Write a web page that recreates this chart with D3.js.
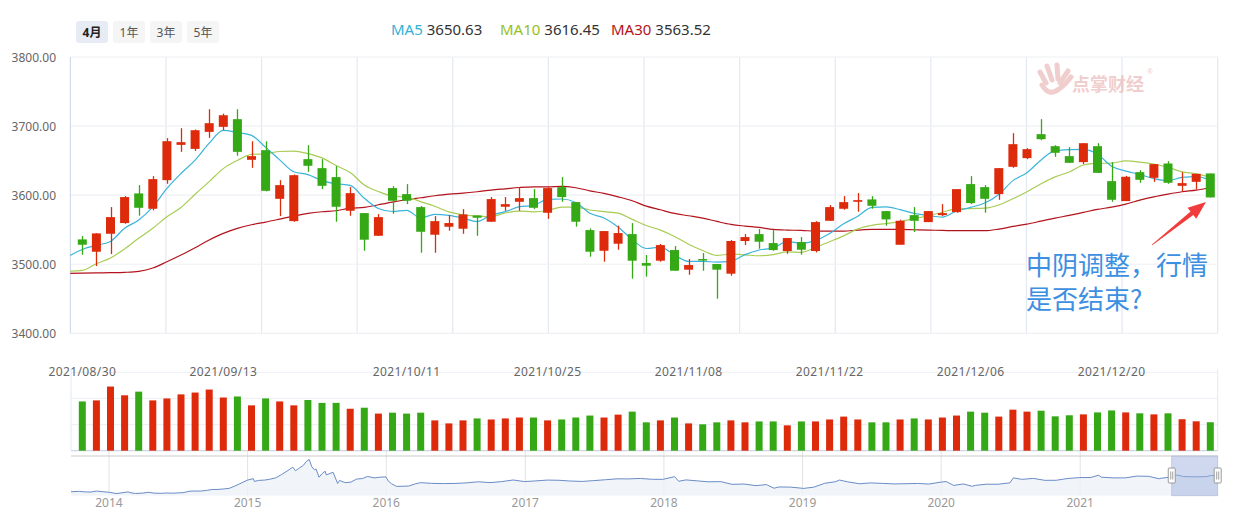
<!DOCTYPE html>
<html lang="zh-CN">
<head>
<meta charset="UTF-8">
<title>上证指数 日K</title>
<script src="https://d3js.org/d3.v7.min.js"></script>
<style>
  body {margin: 0; background: #fff; font-family: "Noto Sans", "Noto Sans CJK SC", sans-serif;}
  svg {display: block;}
</style>
</head>
<body>
<div id="chart"></div>
<script>
// trading days shown in the window
const dates = [
  "2021/08/30","2021/08/31","2021/09/01","2021/09/02","2021/09/03","2021/09/06","2021/09/07","2021/09/08","2021/09/09","2021/09/10",
  "2021/09/13","2021/09/14","2021/09/15","2021/09/16","2021/09/17","2021/09/22","2021/09/23","2021/09/24","2021/09/27","2021/09/28",
  "2021/09/29","2021/09/30","2021/10/08","2021/10/11","2021/10/12","2021/10/13","2021/10/14","2021/10/15","2021/10/18","2021/10/19",
  "2021/10/20","2021/10/21","2021/10/22","2021/10/25","2021/10/26","2021/10/27","2021/10/28","2021/10/29","2021/11/01","2021/11/02",
  "2021/11/03","2021/11/04","2021/11/05","2021/11/08","2021/11/09","2021/11/10","2021/11/11","2021/11/12","2021/11/15","2021/11/16",
  "2021/11/17","2021/11/18","2021/11/19","2021/11/22","2021/11/23","2021/11/24","2021/11/25","2021/11/26","2021/11/29","2021/11/30",
  "2021/12/01","2021/12/02","2021/12/03","2021/12/06","2021/12/07","2021/12/08","2021/12/09","2021/12/10","2021/12/13","2021/12/14",
  "2021/12/15","2021/12/16","2021/12/17","2021/12/20","2021/12/21","2021/12/22","2021/12/23","2021/12/24","2021/12/27","2021/12/28",
  "2021/12/29"
];
const opens = [
  3535.9,3518.1,3544.1,3559.6,3602.5,3580.3,3621.7,3672.8,3667.0,3691.6,
  3698.9,3710.0,3651.2,3665.1,3594.7,3562.4,3652.1,3639.1,3626.1,3577.4,
  3574.0,3541.2,3610.2,3601.5,3582.7,3542.7,3554.3,3551.4,3570.6,3561.5,
  3583.2,3590.4,3595.7,3574.5,3611.6,3589.9,3549.4,3519.5,3529.7,3543.6,
  3501.7,3505.1,3520.5,3492.1,3507.5,3500.3,3486.3,3533.6,3543.6,3530.6,
  3519.1,3532.1,3519.1,3562.9,3580.3,3590.4,3593.8,3576.9,3528.2,3571.1,
  3561.0,3571.1,3575.4,3616.0,3611.6,3601.5,3641.0,3653.6,3688.3,3670.9,
  3656.5,3647.8,3670.9,3620.3,3591.4,3633.3,3625.1,3645.8,3613.5,3619.3,
  3631.4
];
const closes = [
  3528.2,3544.6,3568.2,3597.2,3581.7,3623.2,3678.1,3676.7,3694.0,3704.2,
  3715.7,3662.7,3656.5,3606.3,3614.5,3628.9,3642.5,3613.5,3583.2,3602.9,
  3535.5,3568.2,3591.9,3591.9,3547.0,3562.4,3559.6,3572.1,3567.3,3594.3,
  3587.0,3595.7,3581.7,3610.2,3597.2,3561.5,3518.1,3548.0,3545.1,3505.1,
  3497.9,3527.7,3490.6,3498.8,3505.6,3492.1,3533.6,3539.3,3532.6,3520.5,
  3537.9,3521.0,3561.0,3582.7,3589.9,3592.8,3584.6,3564.9,3562.9,3562.9,
  3576.9,3574.0,3608.7,3588.5,3594.7,3639.1,3673.8,3666.6,3681.0,3661.3,
  3646.8,3675.2,3632.3,3593.3,3626.6,3622.2,3644.9,3617.9,3617.4,3630.9,
  3596.7
];
const highs = [
  3540.8,3545.0,3582.7,3598.6,3614.5,3627.5,3682.5,3696.9,3695.0,3724.4,
  3718.0,3724.4,3678.0,3678.0,3621.7,3629.9,3672.3,3652.1,3642.0,3611.6,
  3574.0,3572.6,3613.0,3616.0,3584.1,3569.7,3571.1,3579.8,3570.6,3597.2,
  3597.2,3611.6,3608.7,3611.6,3626.1,3589.9,3551.8,3548.0,3555.7,3559.6,
  3513.3,3529.2,3526.3,3507.5,3516.2,3500.3,3535.0,3543.6,3550.9,3549.4,
  3537.9,3539.3,3562.4,3585.6,3598.6,3603.0,3598.6,3576.9,3564.4,3582.7,
  3576.9,3587.0,3608.7,3627.5,3614.5,3639.1,3689.7,3668.0,3710.0,3672.3,
  3669.5,3675.2,3675.2,3647.8,3628.0,3636.2,3644.9,3649.2,3633.3,3630.9,
  3631.4
];
const lows = [
  3513.8,3497.4,3514.7,3558.6,3570.2,3578.0,3616.4,3662.7,3664.0,3683.0,
  3694.0,3657.0,3639.6,3605.5,3569.7,3561.5,3633.8,3608.7,3561.5,3570.2,
  3519.5,3541.0,3573.0,3587.0,3516.7,3516.7,3548.5,3544.1,3541.2,3561.5,
  3577.4,3577.4,3579.8,3565.8,3590.4,3554.3,3510.9,3503.6,3521.0,3479.1,
  3482.0,3503.6,3490.6,3484.8,3490.6,3450.1,3483.4,3527.7,3522.4,3519.5,
  3515.2,3513.8,3517.1,3562.9,3578.8,3576.0,3580.3,3555.7,3528.2,3546.5,
  3561.0,3569.7,3574.5,3587.0,3574.5,3593.3,3639.6,3652.1,3679.6,3655.5,
  3646.8,3644.9,3632.3,3590.4,3591.4,3617.9,3619.3,3616.4,3604.9,3608.2,
  3596.7
];
const volumes = [
  377,385,491,424,452,385,400,431,445,468,
  407,415,347,400,377,347,388,366,366,321,
  329,284,291,284,291,232,209,232,247,239,
  247,254,254,232,239,254,269,254,276,299,
  217,232,254,209,202,217,232,217,224,224,
  194,224,224,239,261,239,217,217,239,247,
  239,254,269,299,291,261,314,299,306,263,
  271,278,293,308,293,286,278,286,241,225,
  218
];
// moving averages, first value is the trading day before the window
const ma5 = [
  3511.2,
  3521.4,3527.4,3533.0,3552.1,3564.0,3583.0,3609.7,3631.4,3650.7,3675.2,
  3693.7,3690.7,3686.6,3669.1,3651.1,3633.8,3629.7,3621.1,3616.5,3614.2,
  3595.5,3580.7,3576.3,3578.1,3566.9,3572.3,3570.6,3566.6,3561.7,3571.1,
  3576.1,3583.3,3585.2,3593.8,3594.4,3589.3,3573.7,3567.0,3554.0,3535.6,
  3522.8,3524.8,3513.3,3504.0,3504.1,3503.0,3504.1,3513.9,3520.6,3523.6,
  3532.8,3530.3,3534.6,3544.6,3558.5,3569.5,3582.2,3583.0,3579.0,3573.6,
  3570.4,3568.3,3577.1,3582.2,3588.6,3601.0,3621.0,3632.5,3651.0,3664.4,
  3665.9,3666.2,3659.3,3641.8,3634.8,3629.9,3623.9,3621.0,3625.8,3626.7,
  3621.6
];
const ma10 = [
  3489.9,
  3491.0,3500.7,3509.0,3522.2,3537.6,3552.2,3568.6,3582.2,3601.4,3619.6,
  3638.4,3650.2,3659.0,3659.9,3663.2,3663.8,3660.2,3653.9,3642.8,3632.7,
  3614.7,3605.2,3598.7,3597.3,3590.6,3583.9,3575.7,3571.5,3569.9,3569.0,
  3574.2,3577.0,3575.9,3577.8,3582.8,3582.7,3578.5,3576.1,3573.9,3565.0,
  3556.1,3549.3,3540.2,3529.0,3519.9,3512.9,3514.5,3513.6,3512.3,3513.9,
  3517.9,3517.2,3524.3,3532.6,3541.1,3551.2,3556.3,3558.8,3561.8,3566.1,
  3570.0,3575.3,3580.1,3580.6,3581.1,3585.7,3594.7,3604.8,3616.6,3626.5,
  3633.5,3643.6,3645.9,3646.4,3649.6,3647.9,3645.1,3640.2,3633.8,3630.8,
  3625.8
];
const ma30 = [
  3486.8,
  3487.2,3487.5,3487.7,3488.2,3489.7,3494.5,3503.6,3513.3,3523.9,3535.0,
  3544.6,3551.8,3557.1,3561.0,3565.3,3569.7,3573.5,3576.0,3577.4,3581.2,
  3582.2,3586.1,3589.9,3593.3,3596.2,3599.1,3601.5,3602.9,3604.9,3607.3,
  3609.2,3611.1,3612.1,3612.1,3612.6,3610.7,3606.3,3602.5,3597.6,3591.9,
  3584.1,3578.8,3573.5,3570.2,3566.8,3562.0,3557.6,3555.2,3553.3,3550.4,
  3549.4,3549.0,3547.8,3547.8,3548.0,3549.4,3550.4,3550.4,3550.4,3549.9,
  3549.4,3549.0,3548.5,3548.5,3548.5,3550.9,3554.7,3558.1,3562.4,3566.8,
  3570.6,3575.0,3579.3,3582.7,3587.0,3592.8,3597.6,3601.5,3604.9,3607.3,
  3610.7
];
const dateTicks = ["2021/08/30","2021/09/13","2021/10/11","2021/10/25","2021/11/08","2021/11/22","2021/12/06","2021/12/20"];
const priceTicks = [3400, 3500, 3600, 3700, 3800];
const periods = ["4月", "1年", "3年", "5年"];
const legend = [
  {name: "MA5", value: "3650.63", color: "#31b2d8"},
  {name: "MA10", value: "3616.45", color: "#96c11e"},
  {name: "MA30", value: "3563.52", color: "#b3131c"}
];
// overview series for the zoom bar (index, roughly monthly)
const overview = [
  ["2013-09-23",2160],["2013-10-15",2193],["2013-10-31",2141],["2013-11-15",2135],["2013-11-29",2220],
  ["2013-12-16",2160],["2013-12-31",2116],["2014-01-20",1991],["2014-01-30",2033],["2014-02-20",2143],
  ["2014-02-28",2056],["2014-03-12",1997],["2014-03-31",2033],["2014-04-15",2105],["2014-04-30",2026],
  ["2014-05-20",2010],["2014-05-30",2039],["2014-06-20",2026],["2014-06-30",2048],["2014-07-15",2068],
  ["2014-07-31",2201],["2014-08-15",2226],["2014-08-29",2217],["2014-09-15",2285],["2014-09-30",2364],
  ["2014-10-15",2374],["2014-10-31",2420],["2014-11-14",2478],["2014-11-28",2683],["2014-12-09",2856],
  ["2014-12-31",3234],["2015-01-16",3376],["2015-01-19",3116],["2015-01-30",3210],["2015-02-16",3247],
  ["2015-02-27",3310],["2015-03-16",3449],["2015-03-31",3748],["2015-04-15",4084],["2015-04-30",4441],
  ["2015-05-07",4112],["2015-05-15",4308],["2015-05-28",4621],["2015-06-04",4947],["2015-06-12",5166],
  ["2015-06-19",4478],["2015-06-26",4192],["2015-06-30",4277],["2015-07-08",3507],["2015-07-15",3805],
  ["2015-07-24",4070],["2015-07-27",3725],["2015-08-14",3965],["2015-08-26",2927],["2015-08-31",3205],
  ["2015-09-15",3005],["2015-09-30",3052],["2015-10-15",3338],["2015-10-30",3382],["2015-11-13",3580],
  ["2015-11-30",3445],["2015-12-15",3510],["2015-12-31",3539],["2016-01-07",3125],["2016-01-15",2900],
  ["2016-01-28",2655],["2016-02-29",2688],["2016-03-15",2864],["2016-03-31",3004],["2016-04-29",2938],
  ["2016-05-31",2917],["2016-06-30",2930],["2016-07-29",2979],["2016-08-31",3085],["2016-09-30",3005],
  ["2016-10-31",3100],["2016-11-30",3250],["2016-12-30",3104],["2017-01-26",3159],["2017-02-28",3242],
  ["2017-03-31",3223],["2017-04-28",3155],["2017-05-31",3117],["2017-06-30",3192],["2017-07-31",3273],
  ["2017-08-31",3361],["2017-09-29",3349],["2017-10-31",3393],["2017-11-30",3317],["2017-12-29",3307],
  ["2018-01-29",3560],["2018-02-09",3129],["2018-02-28",3259],["2018-03-30",3169],["2018-04-27",3082],
  ["2018-05-31",3095],["2018-06-29",2847],["2018-07-31",2876],["2018-08-31",2725],["2018-09-28",2821],
  ["2018-10-18",2486],["2018-10-31",2603],["2018-11-30",2588],["2018-12-28",2494],["2019-01-03",2464],
  ["2019-01-31",2585],["2019-02-28",2941],["2019-03-29",3091],["2019-04-08",3247],["2019-04-30",3078],
  ["2019-05-31",2899],["2019-06-28",2979],["2019-07-31",2933],["2019-08-30",2886],["2019-09-30",2905],
  ["2019-10-31",2929],["2019-11-29",2872],["2019-12-31",3050],["2020-01-14",3106],["2020-02-03",2746],
  ["2020-02-28",2880],["2020-03-23",2660],["2020-03-31",2750],["2020-04-30",2860],["2020-05-29",2852],
  ["2020-06-30",2985],["2020-07-09",3450],["2020-07-31",3310],["2020-08-31",3396],["2020-09-30",3218],
  ["2020-10-30",3225],["2020-11-30",3392],["2020-12-31",3473],["2021-01-29",3483],["2021-02-18",3696],
  ["2021-02-26",3509],["2021-03-31",3442],["2021-04-30",3447],["2021-05-31",3615],["2021-06-30",3591],
  ["2021-07-28",3362],["2021-07-30",3397],["2021-08-31",3544],["2021-09-13",3715],["2021-09-30",3568],
  ["2021-10-29",3547],["2021-11-30",3564],["2021-12-13",3681],["2021-12-29",3597]
];
const windowStart = "2021-08-30";
const note = ["中阴调整，行情", "是否结束?"];

const W = 1243, H = 521;
const UP = "#dd2a0b", DOWN = "#35a816";
const plot = {left: 70.3, right: 1217.7, top: 57, bottom: 333.3};
const vol = {top: 372.3, bottom: 450.7};
const nav = {top: 456, bottom: 495.7};

const svg = d3.select("#chart").append("svg")
  .attr("width", W).attr("height", H)
  .attr("viewBox", `0 0 ${W} ${H}`);

const n = dates.length;
const xi = d3.scaleLinear().domain([0, n - 1]).range([82.3, 1210.3]);
const y = d3.scaleLinear().domain([3400, 3800]).range([plot.bottom, plot.top]);
const yv = d3.scaleLinear().domain([0, 600]).range([vol.bottom, vol.top]);

// ---- header: period buttons + MA legend
const btn = svg.append("g").selectAll("g").data(periods).join("g")
  .attr("transform", (d, i) => `translate(${76 + i * 37},21)`);
btn.append("rect").attr("width", 32).attr("height", 22).attr("rx", 3)
  .attr("fill", (d, i) => i === 0 ? "#e7ebf4" : "#f5f5f5");
btn.append("text").attr("x", 16).attr("y", 15.5).attr("text-anchor", "middle")
  .attr("font-size", 12).attr("font-weight", (d, i) => i === 0 ? "bold" : "normal")
  .attr("fill", (d, i) => i === 0 ? "#222" : "#555").text(d => d);

const legX = [391, 500, 611];
legend.forEach((d, i) => {
  const t = svg.append("text").attr("x", legX[i]).attr("y", 34.5)
    .attr("font-size", 15).attr("fill", d.color).text(d.name);
  const w = t.node().getComputedTextLength();
  svg.append("text").attr("x", legX[i] + w + 4).attr("y", 34.5)
    .attr("font-size", 15).attr("fill", "#333").text(d.value);
});

// ---- main grid
const gx = d3.scaleLinear().domain([0, 12]).range([plot.left, plot.right]);
svg.append("g").selectAll("line").data(d3.range(1, 13)).join("line")
  .attr("x1", d => gx(d)).attr("x2", d => gx(d))
  .attr("y1", plot.top).attr("y2", plot.bottom)
  .attr("stroke", "#e4e8f0").attr("stroke-width", 1.2);
svg.append("g").selectAll("line").data(priceTicks).join("line")
  .attr("x1", plot.left).attr("x2", plot.right)
  .attr("y1", d => y(d)).attr("y2", d => y(d))
  .attr("stroke", "#eef0f4").attr("stroke-width", 1.2);
svg.append("line").attr("x1", plot.left).attr("x2", plot.left)
  .attr("y1", plot.top).attr("y2", plot.bottom).attr("stroke", "#c8d4ea");

svg.append("g").selectAll("text").data(priceTicks).join("text")
  .attr("x", 56).attr("y", d => y(d) + 4.5).attr("text-anchor", "end")
  .attr("font-size", 12).attr("fill", "#666").text(d => d.toFixed(2));

// ---- watermark
const wm = svg.append("g").attr("transform", "translate(1037,63)").attr("opacity", 0.55);
wm.append("path").attr("d", "M3,9 L9,20 M10,3 L15,17 M20,2 L21,16 M31,8 L23,20")
  .attr("stroke", "#e7a7a7").attr("stroke-width", 5).attr("stroke-linecap", "round").attr("fill", "none");
wm.append("path").attr("d", "M5,22 Q12,34 22,26 Q28,22 34,14")
  .attr("stroke", "#e7a7a7").attr("stroke-width", 5).attr("stroke-linecap", "round").attr("fill", "none");
wm.append("text").attr("x", 35).attr("y", 28).attr("font-size", 18).attr("font-weight", "bold")
  .attr("fill", "#e7a7a7").text("点掌财经");
wm.append("text").attr("x", 110).attr("y", 11).attr("font-size", 7).attr("fill", "#e7a7a7").text("®");

// ---- moving averages
svg.append("clipPath").attr("id", "plotClip").append("rect")
  .attr("x", plot.left).attr("y", plot.top)
  .attr("width", plot.right - plot.left).attr("height", plot.bottom - plot.top);
const maLine = d3.line().x((d, i) => xi(i - 1)).y(d => y(d)).curve(d3.curveMonotoneX);
const maG = svg.append("g").attr("clip-path", "url(#plotClip)");
[[ma30, legend[2].color], [ma10, "#a8cc55"], [ma5, "#3ab4da"]].forEach(([s, c]) => {
  maG.append("path").attr("d", maLine(s)).attr("fill", "none")
    .attr("stroke", c).attr("stroke-width", 1.2);
});

// ---- candles
const candles = dates.map((d, i) => ({d, i, o: opens[i], c: closes[i], h: highs[i], l: lows[i]}));
const cg = svg.append("g").selectAll("g").data(candles).join("g")
  .attr("fill", d => d.c >= d.o ? UP : DOWN)
  .attr("stroke", d => d.c >= d.o ? UP : DOWN);
cg.append("line")
  .attr("x1", d => Math.round(xi(d.i)) + 0.5).attr("x2", d => Math.round(xi(d.i)) + 0.5)
  .attr("y1", d => y(d.h)).attr("y2", d => y(d.l)).attr("stroke-width", 1.3);
cg.append("rect")
  .attr("x", d => xi(d.i) - 4.5).attr("width", 9)
  .attr("y", d => y(Math.max(d.o, d.c)))
  .attr("height", d => Math.max(1.5, Math.abs(y(d.o) - y(d.c))))
  .attr("stroke", "none");

// ---- volume panel
svg.append("g").selectAll("line").data(yv.ticks(4)).join("line")
  .attr("x1", 71).attr("x2", plot.right)
  .attr("y1", d => yv(d)).attr("y2", d => yv(d))
  .attr("stroke", d => d === 0 ? "#cdd6e6" : "#eff1f6").attr("stroke-width", 1.2);
svg.append("g").selectAll("line").data([71, plot.right]).join("line")
  .attr("x1", d => d).attr("x2", d => d).attr("y1", vol.top - 3).attr("y2", vol.bottom)
  .attr("stroke", "#e3e8f0");
svg.append("g").selectAll("rect").data(candles).join("rect")
  .attr("x", d => xi(d.i) - 3.5).attr("width", 7)
  .attr("y", d => yv(volumes[d.i]))
  .attr("height", d => yv(0) - yv(volumes[d.i]))
  .attr("fill", d => d.c >= d.o ? UP : DOWN);
svg.append("g").selectAll("text").data(dateTicks).join("text")
  .attr("x", d => xi(dates.indexOf(d))).attr("y", 376)
  .attr("text-anchor", "middle").attr("font-size", 12).attr("fill", "#666")
  .attr("letter-spacing", 0.4).text(d => d);

// ---- overview / zoom bar
const parse = d3.timeParse("%Y-%m-%d");
const ov = overview.map(([d, v]) => ({t: parse(d), v}));
const xn = d3.scaleTime().domain([ov[0].t, ov[ov.length - 1].t]).range([71, plot.right]);
const yn = d3.scaleLinear().domain([1790, 5480]).range([nav.bottom, nav.top]);
const years = d3.timeYear.range(parse("2014-01-01"), parse("2022-01-01"));
svg.append("g").selectAll("line").data(years).join("line")
  .attr("x1", d => xn(d)).attr("x2", d => xn(d)).attr("y1", 451).attr("y2", nav.bottom)
  .attr("stroke", "#e2e2e2");
svg.append("path").datum(ov)
  .attr("d", d3.area().x(d => xn(d.t)).y0(nav.bottom).y1(d => yn(d.v)))
  .attr("fill", "#eef3f9").attr("opacity", 0.8);
svg.append("path").datum(ov)
  .attr("d", d3.line().x(d => xn(d.t)).y(d => yn(d.v)))
  .attr("fill", "none").attr("stroke", "#6a8cc6").attr("stroke-width", 1);
svg.append("line").attr("x1", 71).attr("x2", plot.right).attr("y1", nav.top).attr("y2", nav.top)
  .attr("stroke", "#cccccc").attr("stroke-width", 1.2);
svg.append("g").selectAll("text").data(years).join("text")
  .attr("x", d => xn(d)).attr("y", 506.5).attr("text-anchor", "middle")
  .attr("font-size", 12).attr("fill", "#999").text(d => d.getFullYear());

const x0 = xn(parse(windowStart)), x1 = plot.right;
svg.append("rect").attr("x", x0).attr("y", nav.top).attr("width", x1 - x0)
  .attr("height", nav.bottom - nav.top)
  .attr("fill", "rgba(160,177,222,0.5)").attr("stroke", "#b9c2d8").attr("stroke-width", 0.8);
[x0, x1].forEach(hx => {
  const h = svg.append("g").attr("transform", `translate(${hx},475.5)`);
  h.append("rect").attr("x", -3.5).attr("y", -7.5).attr("width", 7).attr("height", 15).attr("rx", 1)
    .attr("fill", "#fff").attr("stroke", "#999");
  h.append("path").attr("d", "M-1,-4V4M1,-4V4").attr("stroke", "#888").attr("stroke-width", 0.8);
});

// ---- annotation
svg.append("g").selectAll("text").data(note).join("text")
  .attr("x", 1026).attr("y", (d, i) => 275 + i * 34)
  .attr("font-family", "'Noto Sans CJK SC', sans-serif")
  .attr("font-size", 26).attr("fill", "#3d8fe2").text(d => d);

const tail = [1152, 245], tip = [1206, 202];
const dx = tip[0] - tail[0], dy = tip[1] - tail[1], len = Math.hypot(dx, dy);
const ux = dx / len, uy = dy / len, nx = -uy, ny = ux;
const hb = [tip[0] - 18 * ux, tip[1] - 18 * uy];
const pt = (p, k) => `${p[0] + k * nx},${p[1] + k * ny}`;
svg.append("polygon")
  .attr("points", [pt(tail, 0.4), pt(hb, 2.2), pt(hb, 7), tip.join(","), pt(hb, -7), pt(hb, -2.2), pt(tail, -0.4)].join(" "))
  .attr("fill", "#f03c3c");
</script>
</body>
</html>
